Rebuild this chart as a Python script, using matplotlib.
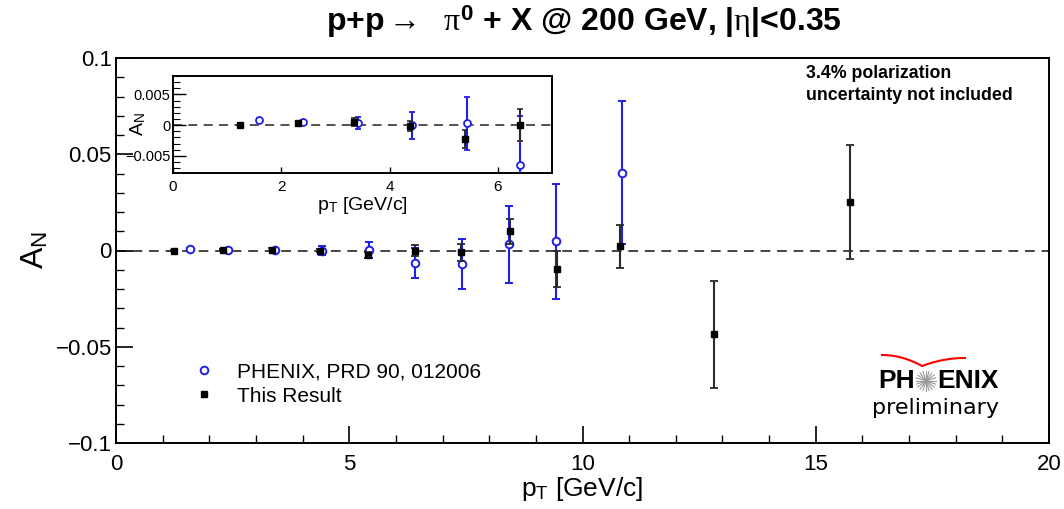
import matplotlib
matplotlib.use("Agg")
import matplotlib.pyplot as plt
import numpy as np
from matplotlib.lines import Line2D
from matplotlib.ticker import MultipleLocator

plt.rcParams['font.family'] = ['Liberation Sans', 'DejaVu Sans']
plt.rcParams['mathtext.fontset'] = 'custom'
plt.rcParams['mathtext.rm'] = 'Liberation Sans'
plt.rcParams['mathtext.it'] = 'Liberation Serif'
plt.rcParams['mathtext.bf'] = 'Liberation Sans:bold'

# This Result (black squares)
res_pt = [1.24, 2.30, 3.35, 4.37, 5.40, 6.40, 7.40, 8.45, 9.45, 10.80, 12.82, 15.73]
res_an = [0.0000, 0.0004, 0.0005, -0.0002, -0.0023, 0.0000, -0.0010, 0.0100, -0.0095, 0.0022, -0.0436, 0.0251]
res_err = [0.0003, 0.0003, 0.0006, 0.0008, 0.0015, 0.0026, 0.0045, 0.0065, 0.0095, 0.0113, 0.0280, 0.0297]

# PHENIX, PRD 90, 012006 (blue open circles)
prd_pt = [1.58, 2.41, 3.41, 4.42, 5.43, 6.41, 7.42, 8.43, 9.43, 10.85]
prd_an = [0.0008, 0.0005, 0.0003, 0.0000, 0.0003, -0.0065, -0.0069, 0.0033, 0.0047, 0.0405]
prd_err = [0.0003, 0.0003, 0.0010, 0.0022, 0.0043, 0.0080, 0.0130, 0.0200, 0.0300, 0.0370]

blue = '#1f1fe6'
dark = '#2a2a2a'

fig = plt.figure(figsize=(10.64, 5.09), dpi=100)
ax = fig.add_axes([116/1064, 1-443/509, (1049-116)/1064, (443-58)/509])

ax.axhline(0, color='#444444', ls=(0, (5, 3.5)), lw=1.4, zorder=1)
ax.errorbar(prd_pt, prd_an, yerr=prd_err, fmt='o', mfc='white', mec=blue, color=blue,
            ms=5.5, mew=1.4, elinewidth=1.5, capsize=3, capthick=1.3, zorder=3)
ax.errorbar(res_pt, res_an, yerr=res_err, fmt='s', mfc='black', mec='black', color=dark,
            ms=4.5, elinewidth=1.5, capsize=3, capthick=1.3, zorder=4)

ax.set_xlim(0, 20)
ax.set_ylim(-0.1, 0.1)
ax.xaxis.set_minor_locator(MultipleLocator(1))
ax.yaxis.set_minor_locator(MultipleLocator(0.01))
ax.set_yticks([-0.1, -0.05, 0, 0.05, 0.1])
ax.set_yticklabels(['\u22120.1', '\u22120.05', '0', '0.05', '0.1'])
ax.set_xticks([0, 5, 10, 15, 20])
ax.set_xticklabels(['0', '5', '10', '15', '20'])
ax.tick_params(which='major', direction='in', length=12, width=1.2, labelsize=16, pad=3)
ax.tick_params(axis='x', which='major', pad=8)
ax.tick_params(which='minor', direction='in', length=6, width=1.0)
for s in ax.spines.values():
    s.set_linewidth(1.4)

ax.set_xlabel(r'p$_{\mathregular{T}}$ [GeV/c]', fontsize=19, labelpad=0)
ax.set_ylabel(r'A$_{\mathregular{N}}$', fontsize=23)
ax.yaxis.set_label_coords((50-116)/933, 0.5)

fig.text(584/1064, 1-22/509, 'p+p$\\rightarrow$  $\\pi^{\\mathbf{0}}$ + X @ 200 GeV, |$\\eta$|<0.35',
         ha='center', va='center', fontsize=23, fontweight='bold')

fig.text(806/1064, 1-73/509, '3.4% polarization', fontsize=12.8, fontweight='bold', va='center')
fig.text(806/1064, 1-96/509, 'uncertainty not included', fontsize=12.8, fontweight='bold', va='center')

# Legend
handles = [Line2D([], [], ls='none', marker='o', mfc='white', mec=blue, ms=5.5, mew=1.4),
           Line2D([], [], ls='none', marker='s', mfc='black', mec='black', ms=4.5)]
labels = ['PHENIX, PRD 90, 012006', 'This Result']
ax.legend(handles, labels, loc='upper left', bbox_to_anchor=(0.074, 0.232), frameon=False,
          fontsize=15, handletextpad=1.1, labelspacing=0.27, handlelength=1.0, borderaxespad=0)

# PHENIX logo
fig.text(915/1064, 1-381/509, 'PH', fontsize=19, fontweight='bold', va='center', ha='right')
fig.text(937/1064, 1-381/509, 'ENIX', fontsize=19, fontweight='bold', va='center', ha='left')
cx, cy = 926/1064, 1-381/509
for ang in np.linspace(0, np.pi, 11)[:-1]:
    dx = np.cos(ang) * 10/1064
    dy = np.sin(ang) * 10/509
    fig.add_artist(Line2D([cx-dx, cx+dx], [cy-dy, cy+dy], transform=fig.transFigure,
                          color='#999999', lw=0.8))
t = np.linspace(0, 1, 40)
lx = 882 + t*(922-882)
ly = 355 + 11*t**2
rx = 922 + t*(965-922)
ry = 366 - 8*(1-(1-t)**2)
arcx = np.concatenate([lx, rx])
arcy = np.concatenate([ly, ry])
fig.add_artist(Line2D(arcx/1064, 1-arcy/509, transform=fig.transFigure, color='red', lw=1.5))
fig.text(936/1064, 1-408/509, 'preliminary', fontsize=16, va='center', ha='center',
         family='DejaVu Sans')

# Inset
axi = fig.add_axes([173/1064, 1-173/509, (552-173)/1064, (173-76)/509])
axi.axhline(0, color='#444444', ls=(0, (5, 3.5)), lw=1.3, zorder=1)
axi.errorbar(prd_pt[:6], prd_an[:6], yerr=prd_err[:6], fmt='o', mfc='white', mec=blue, color=blue,
             ms=5, mew=1.3, elinewidth=1.5, capsize=2.5, capthick=1.2, zorder=3)
axi.errorbar(res_pt[:6], res_an[:6], yerr=res_err[:6], fmt='s', mfc='black', mec='black', color=dark,
             ms=4.5, elinewidth=1.5, capsize=2.5, capthick=1.2, zorder=4)
axi.set_xlim(0, 7)
axi.set_ylim(-0.0078, 0.008)
axi.set_xticks([0, 2, 4, 6])
axi.set_yticks([-0.005, 0, 0.005])
axi.set_yticklabels(['\u22120.005', '0', '0.005'])
axi.yaxis.set_minor_locator(MultipleLocator(0.001))
axi.tick_params(which='major', direction='in', length=9, width=1.0, labelsize=10.5, pad=2)
axi.tick_params(axis='x', which='major', length=4, pad=5, labelsize=11)
axi.tick_params(which='minor', direction='in', length=5, width=0.8)
for s in axi.spines.values():
    s.set_linewidth(1.4)
axi.set_xlabel(r'p$_{\mathregular{T}}$ [GeV/c]', fontsize=14, labelpad=1)
axi.set_ylabel(r'A$_{\mathregular{N}}$', fontsize=14)
axi.yaxis.set_label_coords((148-173)/379, 0.5)

fig.savefig('out.png', dpi=100)
